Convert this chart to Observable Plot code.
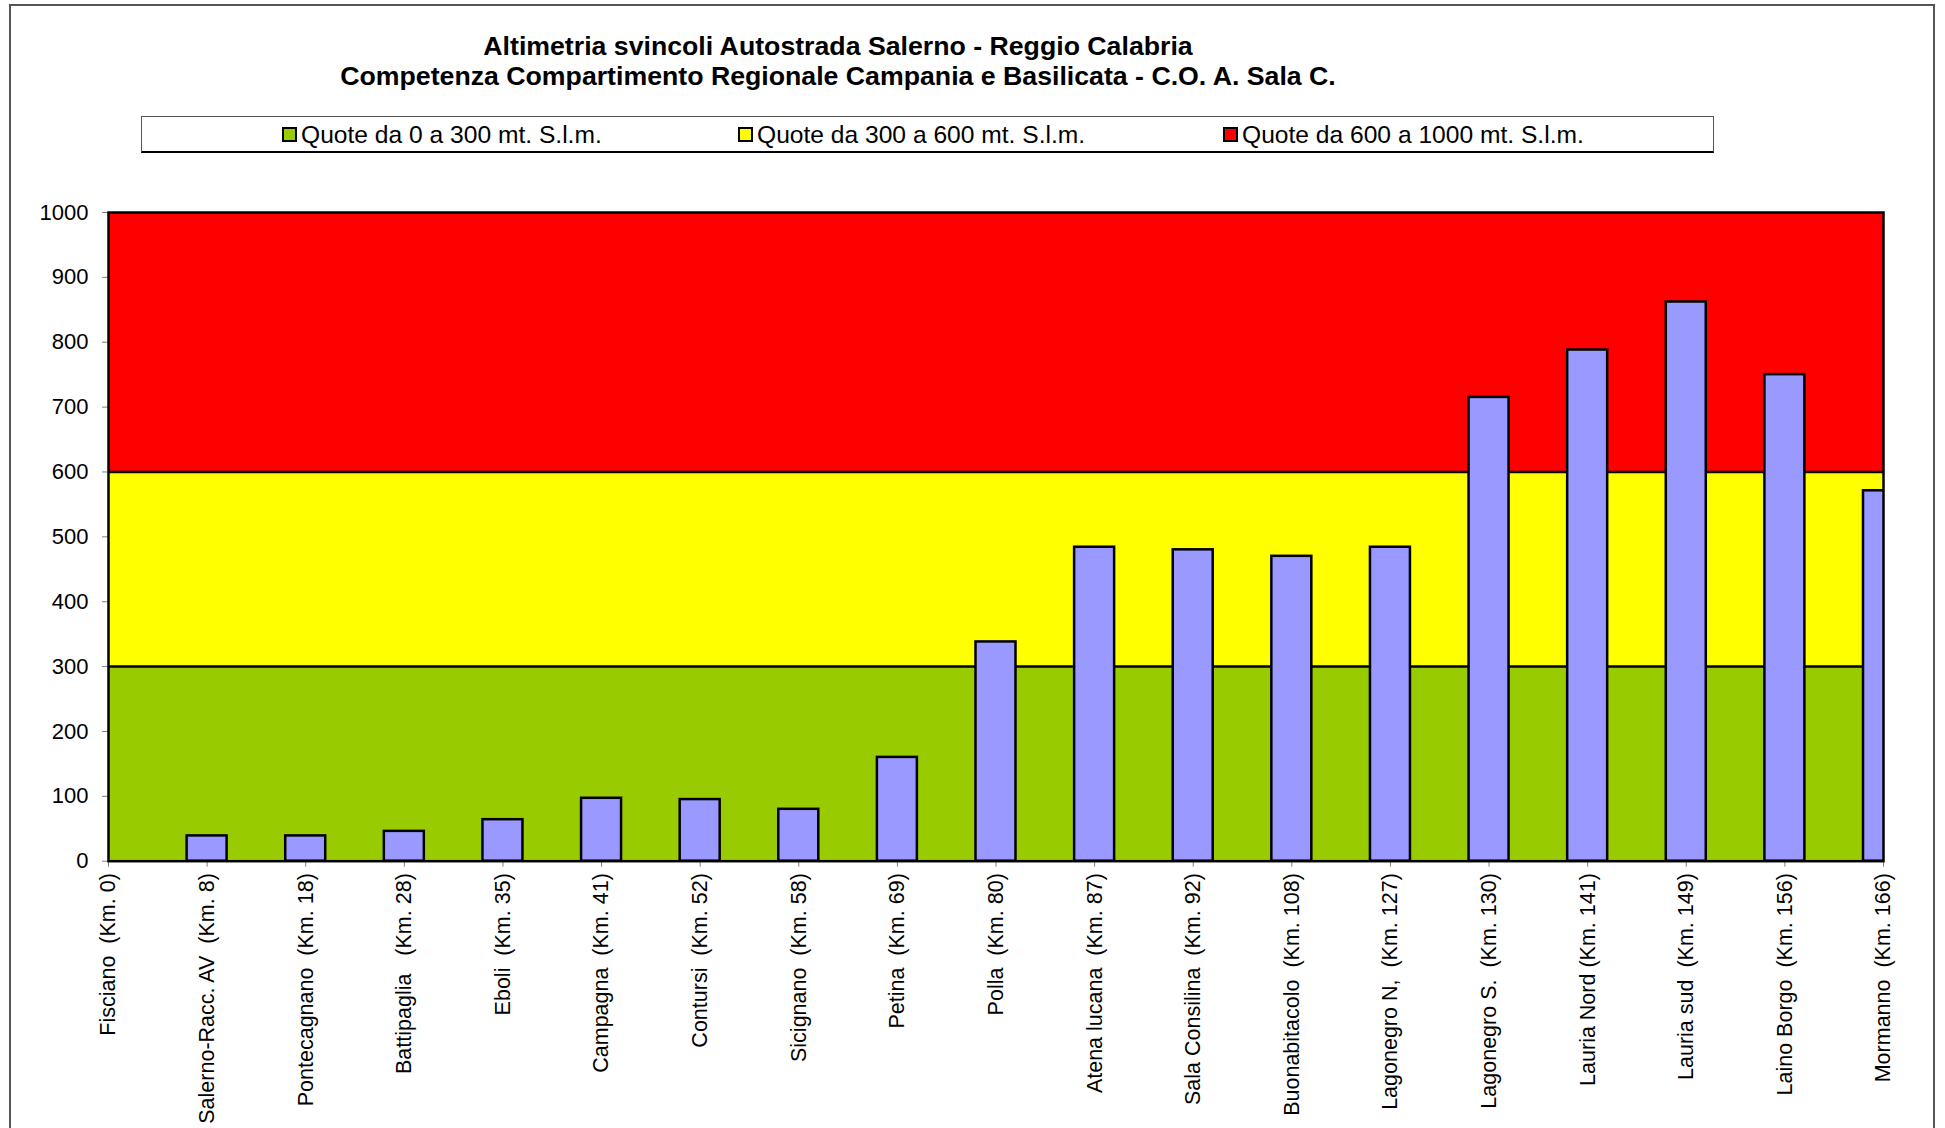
<!DOCTYPE html>
<html>
<head>
<meta charset="utf-8">
<script src="https://cdn.jsdelivr.net/npm/d3@7"></script>
<script src="https://cdn.jsdelivr.net/npm/@observablehq/plot@0.6"></script>
<style>
  html, body { margin: 0; padding: 0; background: #fff; overflow: hidden; }
  body { width: 1945px; height: 1128px; position: relative; font-family: "Liberation Sans", Arial, sans-serif; }
  #frame { position: absolute; left: 9px; top: 4px; width: 1926px; height: 1300px; border: 2px solid #555; box-sizing: border-box; }
  #title { position: absolute; left: 0; top: 31px; width: 1676px; text-align: center; font-weight: bold; font-size: 26.7px; line-height: 30px; color: #000; }
  #legend { position: absolute; left: 141px; top: 116px; width: 1573px; height: 37px; box-sizing: border-box; border: 1px solid #555; border-bottom: 2px solid #000; background: #fff; }
  .item { position: absolute; top: 0; height: 35px; display: flex; align-items: center; font-size: 24.6px; color: #000; white-space: nowrap; }
  .sw { width: 11px; height: 11px; border: 2px solid #000; margin-right: 4px; }
  #chart { position: absolute; left: 0; top: 170px; }
  #chart g[aria-label="x-axis tick"] path, #chart g[aria-label="y-axis tick"] path,
  #chart g[aria-label="x-axis"] path, #chart g[aria-label="y-axis"] path { stroke: #808080; }
  #chart g[aria-label="y-axis tick label"], #chart g[aria-label="y-axis"] text { font-size: 22px; }
</style>
</head>
<body>
<div id="frame"></div>
<div id="title"></div>
<div id="legend"></div>
<div id="chart"></div>
<script>
const titleLines = [
  "Altimetria svincoli Autostrada Salerno - Reggio Calabria",
  "Competenza Compartimento Regionale Campania e Basilicata - C.O. A. Sala C."
];
const categories = [
  "Fisciano\u00a0\u00a0(Km. 0)",
  "Salerno-Racc. AV\u00a0\u00a0(Km. 8)",
  "Pontecagnano\u00a0\u00a0(Km. 18)",
  "Battipaglia\u00a0\u00a0\u00a0(Km. 28)",
  "Eboli\u00a0\u00a0(Km. 35)",
  "Campagna\u00a0\u00a0(Km. 41)",
  "Contursi\u00a0\u00a0(Km. 52)",
  "Sicignano\u00a0\u00a0(Km. 58)",
  "Petina\u00a0\u00a0(Km. 69)",
  "Polla\u00a0\u00a0(Km. 80)",
  "Atena lucana\u00a0\u00a0(Km. 87)",
  "Sala Consilina\u00a0\u00a0(Km. 92)",
  "Buonabitacolo\u00a0\u00a0(Km. 108)",
  "Lagonegro N,\u00a0\u00a0(Km. 127)",
  "Lagonegro S.\u00a0\u00a0(Km. 130)",
  "Lauria Nord\u00a0(Km. 141)",
  "Lauria sud\u00a0\u00a0(Km. 149)",
  "Laino Borgo\u00a0\u00a0(Km. 156)",
  "Mormanno\u00a0\u00a0(Km. 166)"
];
const altitudes = [0, 39, 39, 46, 64, 97, 95, 80, 160, 338, 484, 480, 470, 484, 715, 788, 862, 750, 571];
const bandLabels = ["Quote da 0 a 300 mt. S.l.m.", "Quote da 300 a 600 mt. S.l.m.", "Quote da 600 a 1000 mt. S.l.m."];
const bandLow = [0, 300, 600];
const bandHigh = [300, 600, 1000];
const bandColors = ["#99CC00", "#FFFF00", "#FF0000"];
const yTicks = [0, 100, 200, 300, 400, 500, 600, 700, 800, 900, 1000];

// title
document.getElementById("title").innerHTML = titleLines.map(t => `<div>${t}</div>`).join("");

// legend
const legendLeft = [140, 596, 1081];
const legend = document.getElementById("legend");
bandLabels.forEach((lab, i) => {
  const it = document.createElement("div");
  it.className = "item";
  it.style.left = legendLeft[i] + "px";
  it.innerHTML = `<span class="sw" style="background:${bandColors[i]}"></span><span>${lab}</span>`;
  legend.appendChild(it);
});

const data = categories.map((c, i) => ({name: c, value: altitudes[i]}));
const bands = bandLabels.map((l, i) => ({label: l, lo: bandLow[i], hi: bandHigh[i]}));

const W = 1945, H = 958;
const left = 108, right = 1883;
const step = (right - left) / (categories.length - 1);
const barWidth = 40;

const chart = Plot.plot({
  width: W,
  height: H,
  marginLeft: left,
  marginRight: W - right,
  marginTop: 42,
  marginBottom: 267.3,
  style: {fontFamily: "'Liberation Sans', Arial, sans-serif", fontSize: "21.5px", color: "#000", background: "transparent", overflow: "visible"},
  x: {type: "band", domain: categories, range: [left - step / 2, right + step / 2], padding: 0, round: false, tickRotate: -90, tickSize: 6, tickPadding: 6, label: null},
  y: {domain: [0, 1000], ticks: yTicks, tickSize: 6, tickPadding: 14, tickFormat: d => String(d), label: null},
  color: {domain: bandLabels, range: bandColors},
  marks: [
    Plot.rect(bands, {y1: "lo", y2: "hi", fill: "label"}),
    Plot.ruleY(bandLow.slice(1), {stroke: "#000", strokeWidth: 2.5}),
    Plot.barY(data, {x: "name", y: "value", fill: "#9999FF", stroke: "#000", strokeWidth: 2.5,
      insetLeft: (step - barWidth) / 2, insetRight: (step - barWidth) / 2, clip: true}),
    Plot.frame({stroke: "#000", strokeWidth: 2.5})
  ]
});
document.getElementById("chart").appendChild(chart);
</script>
</body>
</html>
